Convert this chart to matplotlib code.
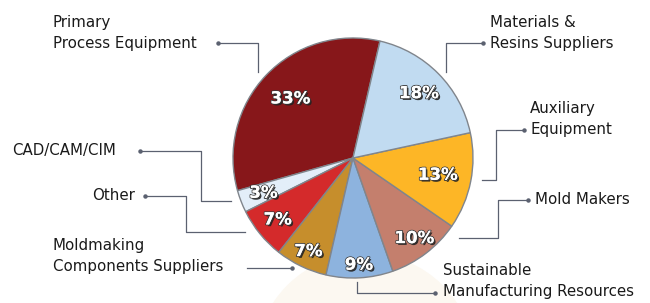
import matplotlib
matplotlib.use("Agg")
import matplotlib.pyplot as plt
import matplotlib.patheffects as pe
import numpy as np

# slice data, counter-clockwise from the top
categories = ["Primary\nProcess Equipment", "CAD/CAM/CIM", "Other",
              "Moldmaking\nComponents Suppliers", "Sustainable\nManufacturing Resources",
              "Mold Makers", "Auxiliary\nEquipment", "Materials &\nResins Suppliers"]
shares = [33, 3, 7, 7, 9, 10, 13, 18]
colors = ["#87171a", "#e3eef9", "#d42a2b", "#c68e2c", "#8db3de",
          "#c47f6d", "#fdb626", "#c1dbf1"]
pct_dist = [0.72, 0.80, 0.81, 0.86, 0.89, 0.84, 0.72, 0.77]

# label text positions (pixels, top-left origin) and leader paths
label_pos = [(53, 33), (12, 151), (92, 196), (53, 256),
             (443, 281), (535, 200), (530, 119), (490, 33)]
leaders = [
    [(218, 43), (258, 43), (258, 72)],
    [(140, 151), (201, 151), (201, 201), (231, 201)],
    [(145, 196), (186, 196), (186, 232), (245, 232)],
    [(292, 268), (247, 268)],
    [(435, 293), (357, 293), (357, 282)],
    [(528, 200), (498, 200), (498, 238), (459, 238)],
    [(524, 130), (496, 130), (496, 180), (482, 180)],
    [(483, 43), (446, 43), (446, 72)],
]

W, H = 650, 303
fig = plt.figure(figsize=(6.5, 3.03), dpi=100)
ax = fig.add_axes([0, 0, 1, 1])

# faint backdrop glow under the pie
ax.add_patch(plt.Circle((365, -60), 110, color="#fcf8f1", zorder=0, lw=0))

cx, cy, r = 353, H - 158, 120
wedges, _ = ax.pie(shares, colors=colors, startangle=77, counterclock=True,
                   center=(cx, cy), radius=r, frame=True,
                   wedgeprops=dict(edgecolor="#80858c", linewidth=1.0))
ax.set_xlim(0, W)
ax.set_ylim(0, H)
ax.set_aspect("equal")
ax.axis("off")

shadow = [pe.SimplePatchShadow(offset=(1.3, -1.3), shadow_rgbFace="#222222", alpha=0.9),
          pe.withStroke(linewidth=1.3, foreground="#3a3a3a"), pe.Normal()]
for w, v, d in zip(wedges, shares, pct_dist):
    ang = np.deg2rad((w.theta1 + w.theta2) / 2)
    ax.text(cx + d * r * np.cos(ang), cy + d * r * np.sin(ang), f"{v}%",
            ha="center", va="center", color="white", fontsize=12,
            fontweight="bold", path_effects=shadow, zorder=5)

line_col = "#5b6170"
for name, (x, y), path in zip(categories, label_pos, leaders):
    ax.text(x, H - y, name, ha="left", va="center", fontsize=10.8,
            color="#1a1a1a", linespacing=1.45)
    xs = [p[0] for p in path]
    ys = [H - p[1] for p in path]
    ax.plot(xs, ys, color=line_col, lw=0.9, zorder=3)
    ax.plot(xs[0], ys[0], "o", color=line_col, ms=2.2, zorder=3)

fig.savefig("out.png", dpi=100)
